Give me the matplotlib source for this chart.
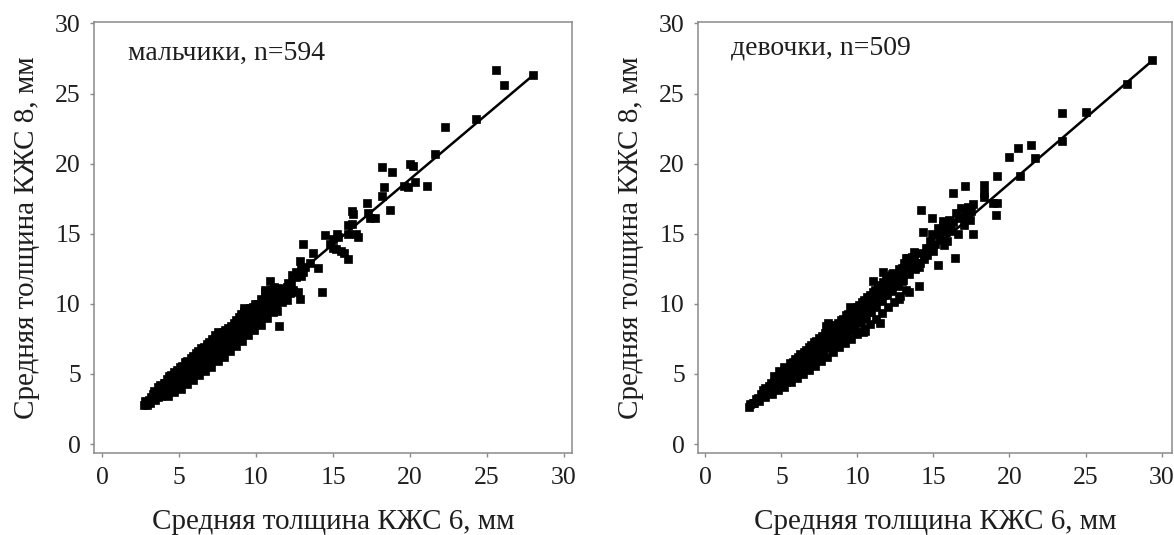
import matplotlib
matplotlib.use("Agg")
import matplotlib.pyplot as plt

plt.rcParams['font.family'] = ['Liberation Serif', 'DejaVu Serif']

# ---------------- data ----------------
ticks = [0, 5, 10, 15, 20, 25, 30]
tick_labels = ['0', '5', '10', '15', '20', '25', '30']
xlabel_text = 'Средняя толщина КЖС 6, мм'
ylabel_text = 'Средняя толщина КЖС 8, мм'
boys_label = 'мальчики, n=594'
girls_label = 'девочки, n=509'

boys_x = [2.7, 2.8, 2.95, 3.1, 3.15, 3.05, 3.45, 3.5, 3.4, 3.8, 3.85, 3.75,
          4.15, 4.2, 4.1, 4.2, 4.5, 4.55, 4.45, 4.5, 4.85, 4.9, 4.8, 4.85,
          5.2, 5.25, 5.15, 5.2, 5.55, 5.6, 5.5, 5.55, 5.9, 5.95, 5.85, 5.9,
          6.25, 6.3, 6.2, 6.25, 6.6, 6.65, 6.55, 6.6, 6.95, 7.0, 6.9, 6.95,
          7.3, 7.35, 7.25, 7.3, 7.35, 7.65, 7.7, 7.6, 7.65, 8.0, 8.05, 7.95, 8.0,
          8.35, 8.4, 8.3, 8.35, 8.7, 8.75, 8.65, 8.7, 9.05, 9.1, 9.0, 9.05,
          9.4, 9.45, 9.35, 9.4, 9.75, 9.8, 9.7, 9.8, 10.1, 10.15, 10.05, 10.1,
          10.45, 10.5, 10.4, 10.8, 10.85, 10.75,
          2.9, 3.3, 3.3, 3.65, 3.65, 3.65, 4.0, 4.0, 4.0, 4.35, 4.35, 4.35, 4.35,
          4.7, 4.7, 4.7, 4.7, 5.05, 5.05, 5.05, 5.05, 5.4, 5.4, 5.4, 5.4,
          5.75, 5.75, 5.75, 5.75, 6.1, 6.1, 6.1, 6.1, 6.45, 6.45, 6.45, 6.45,
          6.8, 6.8, 6.8, 6.8, 7.15, 7.15, 7.15, 7.15, 7.5, 7.5, 7.5, 7.5, 7.5,
          7.85, 7.85, 7.85, 7.85, 8.2, 8.2, 8.2, 8.2, 8.55, 8.55, 8.55, 8.55,
          8.9, 8.9, 8.9, 8.9, 9.25, 9.25, 9.25, 9.25, 9.6, 9.6, 9.6, 9.6,
          9.95, 9.95, 9.95, 9.95, 10.3, 10.3, 10.3, 10.3, 10.65, 10.65, 10.65,
          11.0, 11.0, 11.3, 11.3,
          4.3, 4.7, 5.1, 5.5, 5.9, 6.3, 6.7, 7.1, 7.5, 7.9, 8.3, 8.7, 9.1, 9.5,
          9.9, 10.3, 10.7, 11.1, 9.2,
          10.6, 10.9, 11.2, 11.5, 11.8, 12.1, 12.4, 12.6, 12.9, 11.3, 12.0,
          10.9, 10.6, 11.6, 11.86, 11.37, 11.5, 12.35, 12.83, 13.07, 12.83, 12.7,
          13.03, 13.7, 14.05, 14.3, 11.2, 11.0, 11.4, 12.0, 12.3, 12.6, 12.9,
          13.2, 13.5, 11.0, 11.7, 12.2, 9.2, 10.15,
          14.5, 15.0, 15.26, 15.5, 16.0, 16.0, 16.24, 16.24, 16.5, 17.2, 17.3,
          17.7, 15.0, 15.35, 15.7, 16.65, 16.3, 17.4, 14.8, 15.2, 16.0,
          18.2, 18.3, 18.2, 18.8, 18.7, 19.6, 20.0, 20.2, 20.3, 19.9, 21.1,
          21.6, 22.3, 24.3, 25.6, 26.1, 28.0]
boys_y = [2.8, 3.05, 2.75, 2.95, 3.35, 3.15, 3.15, 3.5, 3.8, 3.4, 3.8, 4.2,
          3.6, 4.0, 4.35, 4.65, 3.85, 4.25, 4.6, 4.95, 4.1, 4.5, 4.9, 5.3,
          4.4, 4.8, 5.2, 5.6, 4.7, 5.1, 5.5, 5.95, 5.0, 5.4, 5.8, 6.3,
          5.3, 5.7, 6.1, 6.6, 5.6, 6.0, 6.4, 6.95, 5.9, 6.3, 6.7, 7.25,
          6.2, 6.6, 7.0, 7.4, 7.75, 6.5, 6.9, 7.3, 7.85, 6.8, 7.2, 7.6, 8.1,
          7.1, 7.5, 7.9, 8.45, 7.5, 7.9, 8.3, 8.85, 7.8, 8.2, 8.6, 9.25,
          8.2, 8.6, 9.0, 9.45, 8.5, 8.95, 9.4, 9.8, 8.9, 9.3, 9.7, 10.0,
          9.25, 9.7, 10.3, 9.6, 10.1, 10.7,
          2.95, 3.2, 3.6, 3.35, 3.7, 4.05, 3.55, 3.95, 4.35, 3.75, 4.15, 4.5, 4.85,
          4.0, 4.4, 4.75, 5.15, 4.25, 4.65, 5.05, 5.5, 4.6, 5.0, 5.35, 5.85,
          4.85, 5.25, 5.65, 6.15, 5.15, 5.55, 5.95, 6.5, 5.45, 5.85, 6.25, 6.85,
          5.75, 6.15, 6.55, 7.15, 6.05, 6.45, 6.85, 7.5, 6.35, 6.75, 7.15, 7.6, 8.0,
          6.65, 7.05, 7.45, 8.0, 6.95, 7.35, 7.75, 8.3, 7.3, 7.7, 8.1, 8.65,
          7.65, 8.05, 8.45, 9.05, 8.0, 8.4, 8.8, 9.45, 8.35, 8.75, 9.2, 9.7,
          8.7, 9.1, 9.5, 10.0, 9.1, 9.5, 9.9, 10.35, 9.4, 9.9, 10.45,
          9.8, 10.5, 10.3, 10.8,
          3.45, 3.7, 3.95, 4.3, 4.6, 4.9, 5.2, 5.5, 5.9, 6.2, 6.6, 7.0, 7.35, 7.75,
          8.1, 8.5, 9.0, 9.4, 9.7,
          11.0, 10.4, 11.2, 10.4, 11.0, 11.5, 11.0, 12.3, 12.5, 9.9, 10.3,
          11.6, 10.85, 10.97, 10.6, 9.5, 8.41, 12.07, 13.05, 12.3, 10.37, 10.85,
          14.27, 13.66, 12.56, 10.85, 10.5, 11.0, 11.1, 11.2, 11.4, 11.9, 12.0,
          12.6, 12.9, 10.2, 10.1, 10.8, 9.5, 10.0,
          14.9, 14.6, 15.0, 13.8, 13.2, 15.0, 15.7, 16.6, 15.0, 17.2, 16.5,
          16.1, 14.0, 14.8, 13.6, 14.8, 16.4, 16.1, 14.3, 13.9, 15.6,
          17.7, 18.3, 19.75, 19.4, 16.7, 18.4, 20.0, 19.8, 18.7, 18.36, 18.4,
          20.7, 22.6, 23.2, 26.7, 25.6, 26.35]

girls_x = [2.85, 2.95, 3.2, 3.3, 3.55, 3.65, 3.9, 4.0, 3.95, 4.25, 4.35, 4.3,
           4.6, 4.7, 4.65, 4.95, 5.05, 5.0, 5.3, 5.4, 5.35,
           5.65, 5.75, 5.7, 5.75, 6.0, 6.1, 6.05, 6.1, 6.35, 6.45, 6.4, 6.45,
           6.7, 6.8, 6.75, 6.8, 7.05, 7.15, 7.1, 7.15, 7.4, 7.5, 7.45, 7.5,
           7.75, 7.85, 7.8, 7.85, 8.1, 8.2, 8.15, 8.2, 8.05, 8.45, 8.55, 8.5, 8.55,
           8.8, 8.9, 8.85, 8.9, 9.15, 9.25, 9.2, 9.25, 9.5, 9.6, 9.55, 9.6, 9.5,
           9.85, 9.95, 9.9, 9.95, 10.2, 10.3, 10.25, 10.3, 10.55, 10.65, 10.6, 10.65,
           10.9, 11.0, 10.95, 11.0, 11.25, 11.35, 11.3, 11.35, 11.6, 11.7, 11.65, 11.7,
           11.95, 12.05, 12.0, 12.05, 12.3, 12.4, 12.35, 12.65, 12.75, 12.7,
           13.0, 13.1, 13.05, 13.4, 13.45, 13.35, 13.8, 13.75, 14.1, 14.15,
           3.1, 3.45, 3.8, 3.8, 4.15, 4.15, 4.5, 4.5, 4.5, 4.85, 4.85, 4.85,
           5.2, 5.2, 5.2, 5.55, 5.55, 5.55, 5.9, 5.9, 5.9, 6.25, 6.25, 6.25,
           6.6, 6.6, 6.6, 6.95, 6.95, 6.95, 7.3, 7.3, 7.3, 7.65, 7.65, 7.65,
           8.0, 8.0, 8.0, 8.35, 8.35, 8.35, 8.7, 8.7, 8.7, 9.05, 9.05, 9.05,
           9.4, 9.4, 9.4, 9.75, 9.75, 9.75, 10.1, 10.1, 10.1, 10.45, 10.45, 10.45,
           10.8, 10.8, 10.8, 11.15, 11.15, 11.15, 11.5, 11.5, 11.5, 11.85, 11.85,
           11.85, 12.2, 12.2, 12.55, 12.55, 12.9, 12.9, 13.25, 13.25, 13.6, 13.6,
           4.4, 4.8, 5.2, 5.6, 6.0, 6.4, 6.8, 7.2, 7.6, 8.0, 8.4, 8.8, 9.2, 9.6,
           10.0, 10.4, 10.8, 11.2, 11.6, 12.0, 12.4, 12.8, 13.2,
           10.36, 10.5, 11.5, 9.5, 7.9, 11.7, 11.0, 12.3, 12.95, 13.4, 12.7,
           13.2, 13.7, 14.05, 14.05, 14.2, 14.9, 14.3, 15.3, 15.9, 16.6, 16.9,
           17.4, 16.0, 16.26, 17.1, 17.6, 16.4, 18.35, 18.35, 19.2, 19.2, 19.1,
           18.9, 18.3, 19.94, 20.55, 21.4, 20.7, 21.66, 23.45, 23.45, 25.0, 27.7,
           29.4, 14.5, 14.8, 15.2, 15.5, 15.7, 15.6, 16.2, 16.5, 16.8, 17.0,
           17.3, 17.6, 15.0, 14.6, 15.3, 14.4, 14.7, 15.1, 15.4, 15.8, 16.1, 16.7,
           17.1, 17.5, 14.9, 15.6, 16.3]
girls_y = [2.65, 2.85, 2.9, 3.2, 3.1, 3.55, 3.35, 3.7, 4.0, 3.65, 4.0, 4.35,
           3.9, 4.3, 4.7, 4.2, 4.6, 5.05, 4.45, 4.85, 5.45,
           4.75, 5.15, 5.55, 5.85, 5.05, 5.45, 5.85, 6.2, 5.35, 5.75, 6.15, 6.55,
           5.65, 6.05, 6.45, 6.9, 5.95, 6.35, 6.8, 7.25, 6.2, 6.6, 7.0, 7.55,
           6.5, 6.9, 7.35, 7.9, 6.85, 7.25, 7.7, 8.25, 8.6, 7.15, 7.55, 8.0, 8.5,
           7.45, 7.85, 8.3, 8.85, 7.75, 8.15, 8.6, 9.2, 8.05, 8.45, 8.9, 9.5, 9.75,
           8.35, 8.75, 9.2, 9.8, 8.7, 9.1, 9.6, 10.15, 9.0, 9.45, 9.95, 10.5,
           9.4, 9.85, 10.35, 10.85, 9.8, 10.25, 10.75, 11.25, 10.2, 10.65, 11.1, 11.55,
           10.6, 11.05, 11.5, 11.95, 10.9, 11.4, 12.2, 11.3, 11.8, 12.5,
           11.7, 12.3, 12.9, 12.1, 12.7, 13.3, 12.5, 13.1, 12.9, 13.6,
           2.95, 3.3, 3.45, 3.85, 3.7, 4.15, 3.95, 4.4, 4.85, 4.2, 4.7, 5.2,
           4.5, 5.0, 5.5, 4.8, 5.3, 5.75, 5.1, 5.6, 6.05, 5.4, 5.9, 6.4,
           5.7, 6.2, 6.7, 6.0, 6.5, 7.05, 6.3, 6.8, 7.35, 6.6, 7.1, 7.7,
           6.9, 7.45, 8.05, 7.2, 7.75, 8.35, 7.5, 8.05, 8.65, 7.8, 8.35, 8.95,
           8.1, 8.7, 9.3, 8.45, 9.0, 9.6, 8.8, 9.35, 9.95, 9.15, 9.7, 10.3,
           9.5, 10.05, 10.65, 9.9, 10.45, 11.0, 10.3, 10.85, 11.35, 10.7, 11.25,
           11.8, 11.1, 11.7, 11.5, 12.05, 11.9, 12.55, 12.3, 12.9, 12.7, 13.35,
           3.6, 3.85, 4.1, 4.4, 4.7, 5.0, 5.3, 5.6, 5.9, 6.2, 6.55, 6.9, 7.2, 7.5,
           7.85, 8.2, 8.55, 8.9, 9.35, 9.75, 10.15, 10.55, 10.95,
           8.0, 8.05, 8.65, 8.2, 8.4, 12.3, 11.6, 12.1, 11.6, 10.85, 10.37,
           13.3, 13.7, 12.6, 11.3, 16.7, 16.1, 15.1, 12.8, 14.5, 15.0, 16.2,
           16.0, 16.0, 17.9, 18.4, 15.0, 13.3, 18.5, 17.9, 19.15, 17.2, 16.3,
           17.2, 17.6, 20.5, 21.1, 21.3, 19.15, 20.4, 23.6, 21.6, 23.7, 25.7,
           27.4, 14.0, 14.5, 14.9, 15.3, 14.2, 15.6, 15.2, 16.5, 16.8, 15.6,
           16.9, 17.1, 13.8, 13.5, 15.4, 13.2, 14.0, 14.3, 14.6, 15.1, 15.5, 16.1,
           16.4, 16.6, 15.0, 15.9, 15.8]

# regression lines (end points)
boys_fit_x = [2.7, 28.1]
boys_fit_y = [2.85, 26.4]
girls_fit_x = [2.9, 29.4]
girls_fit_y = [2.65, 27.35]

# ---------------- figure ----------------
W, H = 1174, 535
fig = plt.figure(figsize=(W / 100, H / 100), dpi=100)

spine_col = '#8a8a8a'
text_col = '#1e1e1e'


def make_panel(rect, xlim, ylim, xs, ys, fx, fy, label, label_xy):
    ax = fig.add_axes(rect)
    ax.plot(xs, ys, linestyle='none', marker='s', ms=5.1, mew=0.5,
            color='black', mec='black', zorder=2)
    ax.plot(fx, fy, color='black', lw=1.8, zorder=3, solid_capstyle='round')
    ax.set_xlim(*xlim)
    ax.set_ylim(*ylim)
    ax.set_xticks(ticks)
    ax.set_xticklabels(tick_labels)
    ax.set_yticks(ticks)
    ax.set_yticklabels(tick_labels)
    for s in ax.spines.values():
        s.set_color(spine_col)
        s.set_linewidth(1.1)
    ax.tick_params(axis='both', direction='out', length=3, width=1.0,
                   color=spine_col, labelsize=18.5, labelcolor=text_col)
    ax.tick_params(axis='x', pad=7)
    ax.tick_params(axis='y', pad=6.5)
    ax.set_xlabel(xlabel_text, fontsize=21, color=text_col)
    ax.set_ylabel(ylabel_text, fontsize=21, color=text_col)
    ax.xaxis.set_label_coords(0.5, -0.13)
    ax.yaxis.set_label_coords(-0.113, 0.5)
    ax.text(label_xy[0], label_xy[1], label, fontsize=20, color=text_col,
            ha='left', va='baseline')
    return ax


left_rect = [94 / W, 1 - 453 / H, (572 - 94) / W, (453 - 22) / H]
right_rect = [698 / W, 1 - 453 / H, (1172 - 698) / W, (453 - 22) / H]

make_panel(left_rect, (-0.52, 30.52), (-0.64, 30.1), boys_x, boys_y,
           boys_fit_x, boys_fit_y, boys_label, (1.69, 27.4))
make_panel(right_rect, (-0.49, 30.69), (-0.64, 30.1), girls_x, girls_y,
           girls_fit_x, girls_fit_y, girls_label, (1.71, 27.8))

fig.savefig('out.png', dpi=100)
